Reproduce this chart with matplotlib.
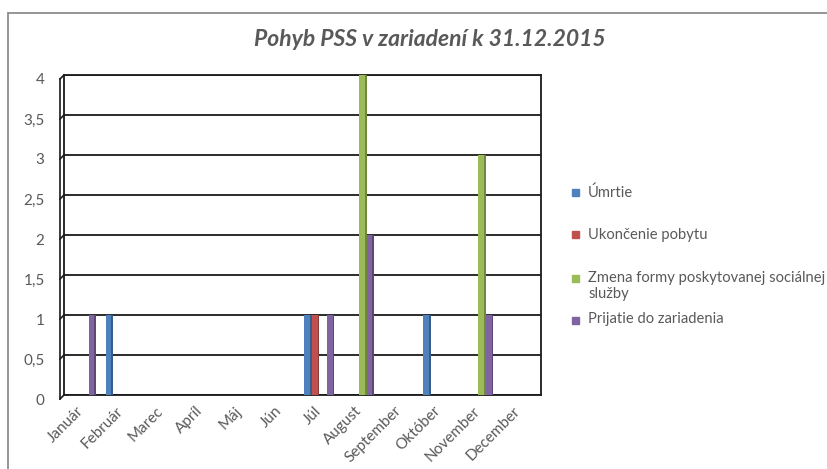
import matplotlib
matplotlib.use("Agg")
import matplotlib.pyplot as plt
import matplotlib.transforms as mtrans
import numpy as np
from matplotlib.patches import Rectangle
from matplotlib.lines import Line2D

# ── Data ─────────────────────────────────────────────────────────────────────
months = ["Január", "Február", "Marec", "Apríl", "Máj", "Jún", "Júl",
          "August", "September", "Október", "November", "December"]
umrtie = [0, 1, 0, 0, 0, 0, 1, 0, 0, 1, 0, 0]
ukoncenie = [0, 0, 0, 0, 0, 0, 1, 0, 0, 0, 0, 0]
zmena = [0, 0, 0, 0, 0, 0, 0, 4, 0, 0, 3, 0]
prijatie = [1, 0, 0, 0, 0, 0, 1, 2, 0, 0, 1, 0]
series_names = ["Úmrtie", "Ukončenie pobytu",
                "Zmena formy poskytovanej sociálnej\nslužby",
                "Prijatie do zariadenia"]
yticks = [0, 0.5, 1, 1.5, 2, 2.5, 3, 3.5, 4]
ytick_labels = ["0", "0,5", "1", "1,5", "2", "2,5", "3", "3,5", "4"]

colors = ["#4F81BD", "#C0504D", "#9BBB59", "#8064A2"]
sides = ["#385D8A", "#8C3836", "#71893F", "#5C4776"]

plt.rcParams["font.family"] = ["Lato", "DejaVu Sans"]
TXT = "#595959"

W, H = 827, 469
fig = plt.figure(figsize=(W / 100, H / 100), dpi=100)
ax = fig.add_axes([64 / W, 1 - 395 / H, (541 - 64) / W, (395 - 75) / H])

x = np.arange(len(months))
bw = 0.19
data = [umrtie, ukoncenie, zmena, prijatie]
for i, (vals, c, s) in enumerate(zip(data, colors, sides)):
    off = (i - 1.5) * bw
    vals = np.array(vals, dtype=float)
    ax.bar(x + off - bw * 0.12, vals, width=bw * 0.76, color=c, zorder=3)
    ax.bar(x + off + bw * 0.38, vals, width=bw * 0.24, color=s, zorder=3)

ax.set_xlim(-0.43, 11.58)
ax.set_ylim(0, 4)
ax.set_yticks(yticks)
ax.set_yticklabels(ytick_labels)
ax.set_xticks(x)
ax.set_xticklabels(months, rotation=45, ha="right", va="center",
                   rotation_mode="anchor")
ax.tick_params(axis="both", length=0, colors=TXT, labelsize=11)
ax.tick_params(axis="y", pad=14)
ax.tick_params(axis="x", pad=10)
ax.grid(axis="y", color="#1a1a1a", linewidth=1.3, zorder=1)
for sp in ax.spines.values():
    sp.set_color("#1a1a1a")
    sp.set_linewidth(1.3)

# shift y tick labels slightly down like the 3D front plane
for lbl in ax.get_yticklabels():
    lbl.set_transform(lbl.get_transform() + mtrans.ScaledTranslation(0, -4 / 100, fig.dpi_scale_trans))

# 3D left wall: front edge and small diagonals
fig.canvas.draw()
x0 = ax.transAxes.transform((0, 0))[0]
for v in yticks:
    yp = ax.transData.transform((0, v))[1]
    fig.add_artist(Line2D([x0 / W, (x0 - 4) / W], [yp / H, (yp - 4) / H],
                          transform=fig.transFigure, color="#1a1a1a", lw=1.2))
y_lo = ax.transData.transform((0, 0))[1]
y_hi = ax.transData.transform((0, 4))[1]
fig.add_artist(Line2D([(x0 - 4) / W, (x0 - 4) / W], [(y_lo - 4) / H, (y_hi - 4) / H],
                      transform=fig.transFigure, color="#1a1a1a", lw=1.2))

# title
fig.text(430 / W, 1 - 40 / H, "Pohyb PSS v zariadení k 31.12.2015",
         ha="center", va="center", fontsize=16.5, fontweight="bold",
         fontstyle="italic", color=TXT)

# legend (manual, Excel-like spacing)
leg_y = [193, 235, 278, 320]
for name, c, yy in zip(series_names, colors, leg_y):
    fig.add_artist(Rectangle(((575 - 3.5) / W, 1 - (yy + 3.5) / H), 7 / W, 7 / H,
                             transform=fig.transFigure, color=c))
    fig.text(588 / W, 1 - (yy - 7.5) / H, name, ha="left", va="top",
             fontsize=10.6, color=TXT, linespacing=1.25)

# outer chart border
fig.add_artist(Rectangle((8 / W, -0.05), 1.1, (H - 13) / H + 0.05,
                         transform=fig.transFigure, fill=False,
                         ec="#8c8c8c", lw=1.3))

fig.savefig("out.png", dpi=100)
